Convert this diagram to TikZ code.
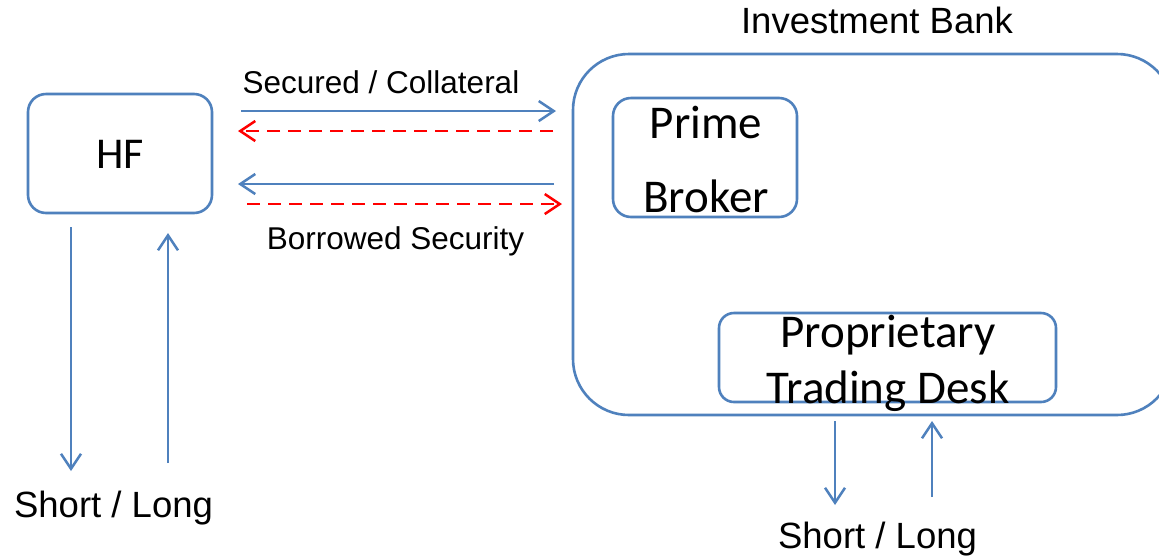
\documentclass[tikz,border=0pt]{standalone}
\usepackage{fontspec}
\setmainfont{Liberation Sans}
\newfontfamily\carl{Carlito}
\usetikzlibrary{arrows.meta}
\definecolor{boxblue}{HTML}{4F81BD}
\definecolor{dashred}{HTML}{FF0000}
\tikzset{
  box/.style={draw=boxblue, line width=2.6pt, rounded corners=#1, inner sep=0pt},
  box/.default=18pt,
  barrow/.style={draw=boxblue, line width=2.5pt, -{Straight Barb[length=15pt,width=20pt]}},
  rarrow/.style={draw=dashred, line width=2.5pt, dash pattern=on 13pt off 8pt, -{Straight Barb[length=15pt,width=20pt]}},
  lbl/.style={anchor=base, inner sep=0pt, font=\fontsize{31.5}{36}\selectfont},
  biglbl/.style={anchor=base, inner sep=0pt, font=\fontsize{36.5}{42}\selectfont},
  boxtxt/.style={anchor=base, inner sep=0pt, font=\carl\fontsize{47}{52}\selectfont},
}
\begin{document}
\begin{tikzpicture}[x=1pt,y=-1pt]
\useasboundingbox (0,0) rectangle (1159,558);
\fill[white] (0,0) rectangle (1159,558);
% big investment bank box (clipped at right edge)
\begin{scope}
\clip (0,0) rectangle (1159,558);
\node[box=56pt, minimum width=600pt, minimum height=361pt] (ib) at (873,234.5) {};
\end{scope}
\node[biglbl] (ibl) at (877,33) {Investment Bank};
% HF box
\node[box, minimum width=184pt, minimum height=119pt] (hf) at (120,153.5) {};
\node[anchor=base, inner sep=0pt, font=\carl\fontsize{44}{48}\selectfont] (hft) at (120,168) {HF};
% Prime broker
\node[box, minimum width=184pt, minimum height=119pt] (pb) at (705,157.5) {};
\node[boxtxt] (pb1) at (706,138) {Prime};
\node[boxtxt] (pb2) at (706,212) {Broker};
% Proprietary trading desk
\node[box=15pt, minimum width=337pt, minimum height=89pt] (ptd) at (887.5,357.5) {};
\node[boxtxt] (ptd1) at (888,347) {Proprietary};
\node[boxtxt] (ptd2) at (888,403) {Trading Desk};
% arrow end points
\coordinate (a1s) at (241,111); \coordinate (a1e) at (556,111);
\coordinate (a2s) at (553,131); \coordinate (a2e) at (238,131);
\coordinate (a3s) at (554,184); \coordinate (a3e) at (238,184);
\coordinate (a4s) at (247,204); \coordinate (a4e) at (562,204);
\draw[barrow] (a1s) -- (a1e);
\draw[rarrow] (a2s) -- (a2e);
\draw[barrow] (a3s) -- (a3e);
\draw[rarrow] (a4s) -- (a4e);
\node[lbl] (sec) at (381,93) {Secured / Collateral};
\node[lbl] (bor) at (395.5,249) {Borrowed Security};
% HF vertical arrows
\coordinate (h1s) at (71,227); \coordinate (h1e) at (71,471);
\coordinate (h2s) at (168,463); \coordinate (h2e) at (168,233);
\draw[barrow] (h1s) -- (h1e);
\draw[barrow] (h2s) -- (h2e);
\node[biglbl] (sl1) at (113.5,517) {Short / Long};
% PTD vertical arrows
\coordinate (p1s) at (835,421); \coordinate (p1e) at (835,505);
\coordinate (p2s) at (932,497); \coordinate (p2e) at (932,421);
\draw[barrow] (p1s) -- (p1e);
\draw[barrow] (p2s) -- (p2e);
\node[biglbl] (sl2) at (877.5,548) {Short / Long};
\end{tikzpicture}
\end{document}
